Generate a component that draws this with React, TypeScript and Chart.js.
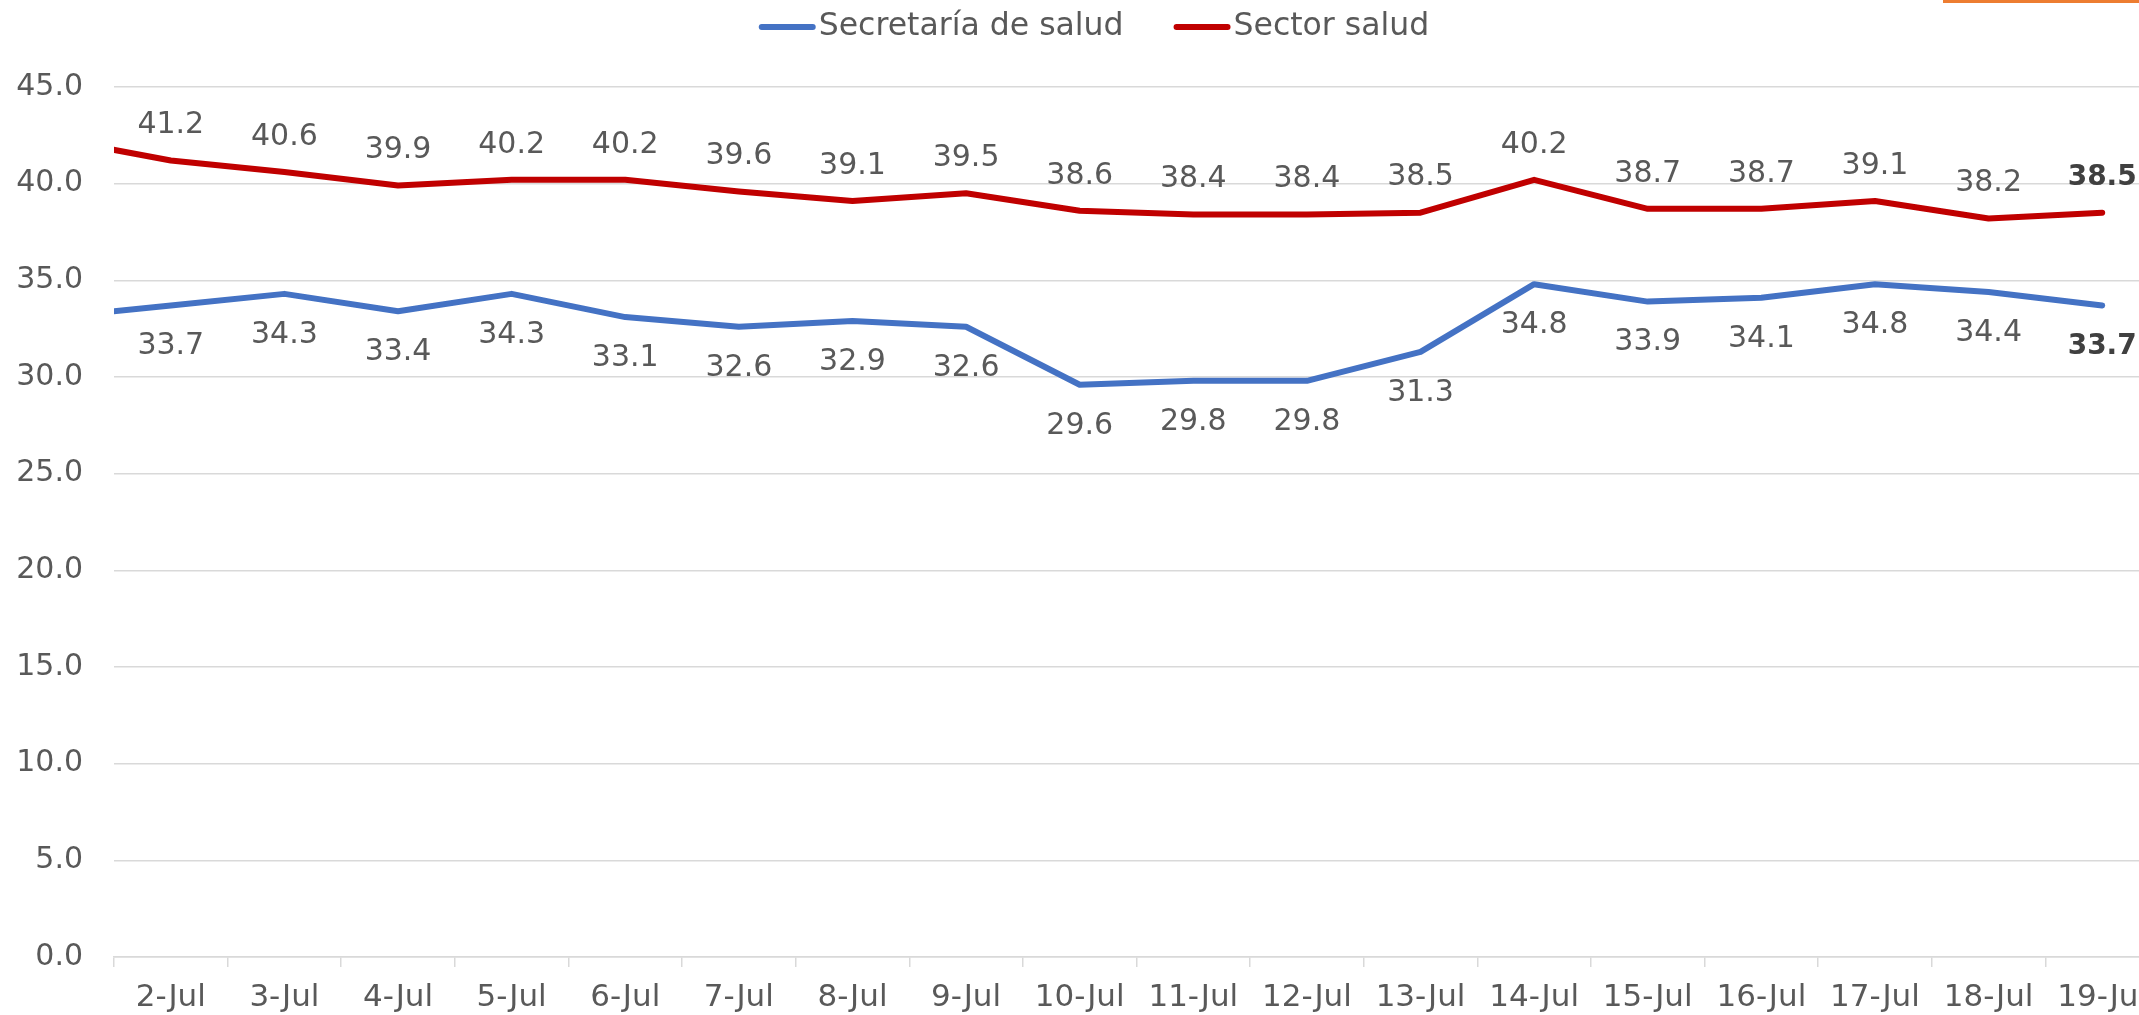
import React, { useEffect, useRef } from "react";
import { Chart, registerables } from "chart.js";

Chart.register(...registerables);

// ---- data ----
const categories = [
  "1-Jul", "2-Jul", "3-Jul", "4-Jul", "5-Jul", "6-Jul", "7-Jul", "8-Jul", "9-Jul", "10-Jul",
  "11-Jul", "12-Jul", "13-Jul", "14-Jul", "15-Jul", "16-Jul", "17-Jul", "18-Jul", "19-Jul",
];
const firstVisibleCategory = "2-Jul";
const secretariaSalud = [
  33.1, 33.7, 34.3, 33.4, 34.3, 33.1, 32.6, 32.9, 32.6, 29.6,
  29.8, 29.8, 31.3, 34.8, 33.9, 34.1, 34.8, 34.4, 33.7,
];
const sectorSalud = [
  42.3, 41.2, 40.6, 39.9, 40.2, 40.2, 39.6, 39.1, 39.5, 38.6,
  38.4, 38.4, 38.5, 40.2, 38.7, 38.7, 39.1, 38.2, 38.5,
];
const seriesNames = ["Secretaría de salud", "Sector salud"];
const seriesColors = ["#4472C4", "#C00000"];
const yMin = 0;
const yMax = 45;
const yStep = 5;

const FONT = "'DejaVu Sans', sans-serif";
const TEXT = "#595959";
const GRID = "#d9d9d9";

const dataLabelsPlugin = {
  id: "dataLabels",
  afterDatasetsDraw(chart: any) {
    const ctx = chart.ctx;
    const area = chart.chartArea;
    chart.data.datasets.forEach((ds: any, di: number) => {
      const meta = chart.getDatasetMeta(di);
      const above = di === 1;
      meta.data.forEach((pt: any, i: number) => {
        if (pt.x < area.left - 1) return;
        const last = i === ds.data.length - 1;
        ctx.save();
        ctx.font = last ? `bold 28px ${FONT}` : `30px ${FONT}`;
        ctx.fillStyle = last ? "#404040" : TEXT;
        ctx.textAlign = "center";
        ctx.textBaseline = "middle";
        const y = above ? pt.y - 35 : pt.y + 41;
        ctx.fillText(Number(ds.data[i]).toFixed(1), pt.x, y);
        ctx.restore();
      });
    });
  },
};

const legendPlugin = {
  id: "customLegend",
  afterDraw(chart: any) {
    const ctx = chart.ctx;
    ctx.save();
    ctx.font = `31.5px ${FONT}`;
    const lineW = 57;
    const gap = 3;
    const itemGap = 50;
    const widths = seriesNames.map((n) => ctx.measureText(n).width);
    const total = widths.reduce((a, w) => a + lineW + gap + w, 0) + itemGap * (seriesNames.length - 1);
    let x = 1094 - total / 2;
    const y = 27;
    seriesNames.forEach((name, i) => {
      ctx.strokeStyle = seriesColors[i];
      ctx.lineWidth = 6;
      ctx.lineCap = "round";
      ctx.beginPath();
      ctx.moveTo(x + 3, y);
      ctx.lineTo(x + lineW - 3, y);
      ctx.stroke();
      ctx.fillStyle = TEXT;
      ctx.textAlign = "left";
      ctx.textBaseline = "middle";
      ctx.fillText(name, x + lineW + gap, y);
      x += lineW + gap + widths[i] + itemGap;
    });
    ctx.restore();
  },
};

export default function App() {
  const ref = useRef<HTMLCanvasElement>(null);
  useEffect(() => {
    if (!ref.current) return;
    const chart = new Chart(ref.current, {
      type: "line",
      data: {
        labels: categories,
        datasets: [
          {
            label: seriesNames[0],
            data: secretariaSalud,
            borderColor: seriesColors[0],
            backgroundColor: seriesColors[0],
            borderWidth: 6,
            pointRadius: 0,
            tension: 0,
            borderCapStyle: "round",
            borderJoinStyle: "round",
          },
          {
            label: seriesNames[1],
            data: sectorSalud,
            borderColor: seriesColors[1],
            backgroundColor: seriesColors[1],
            borderWidth: 6,
            pointRadius: 0,
            tension: 0,
            borderCapStyle: "round",
            borderJoinStyle: "round",
          },
        ],
      },
      options: {
        animation: false,
        responsive: false,
        devicePixelRatio: 1,
        layout: { padding: { top: 87, right: 31, left: 0, bottom: 0 } },
        plugins: {
          legend: { display: false },
          tooltip: { enabled: false },
        },
        scales: {
          x: {
            type: "category",
            min: firstVisibleCategory,
            offset: true,
            grid: {
              offset: true,
              drawOnChartArea: false,
              drawTicks: true,
              tickLength: 10,
              color: GRID,
              lineWidth: 1.5,
            },
            border: { display: true, color: GRID, width: 1.5 },
            ticks: {
              color: TEXT,
              font: { family: FONT, size: 31 },
              padding: 12,
              maxRotation: 0,
              autoSkip: false,
            },
            afterFit: (s: any) => {
              s.height = 58;
            },
          },
          y: {
            min: yMin,
            max: yMax,
            ticks: {
              stepSize: yStep,
              color: TEXT,
              font: { family: FONT, size: 30 },
              padding: 31,
              callback: (v: any) => Number(v).toFixed(1),
            },
            grid: { color: GRID, lineWidth: 1.5, drawTicks: false },
            border: { display: false },
            afterFit: (s: any) => {
              s.width = 114;
            },
          },
        },
      },
      plugins: [dataLabelsPlugin, legendPlugin],
    });
    return () => chart.destroy();
  }, []);

  return (
    <div
      style={{
        position: "fixed",
        left: 0,
        top: 0,
        width: 2139,
        height: 1015,
        overflow: "hidden",
        background: "#fff",
      }}
    >
      <canvas ref={ref} width={2190} height={1015} style={{ width: 2190, height: 1015, display: "block" }} />
      <div
        style={{
          position: "absolute",
          left: 1943,
          top: 0,
          width: 196,
          height: 3,
          background: "#ED7D31",
        }}
      />
    </div>
  );
}
